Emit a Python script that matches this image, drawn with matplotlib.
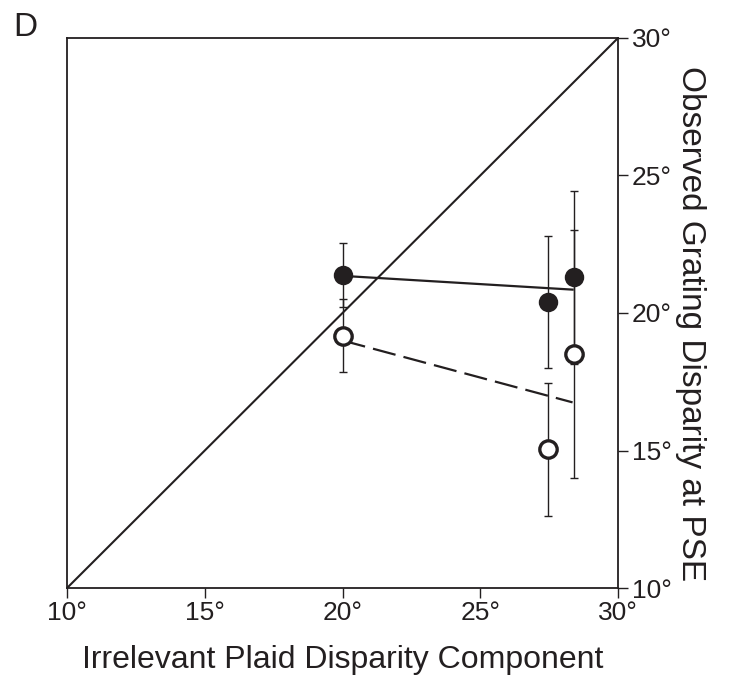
import matplotlib
matplotlib.use("Agg")
import matplotlib.pyplot as plt

plt.rcParams['font.family'] = ['Liberation Sans', 'DejaVu Sans']

# data
x_vals = [20.0, 27.45, 28.4]
filled_y = [21.38, 20.39, 21.3]
filled_err = [1.15, 2.4, 3.15]
open_y = [19.18, 15.04, 18.5]
open_err = [1.32, 2.42, 4.5]
solid_line_x = [20.0, 28.35]
solid_line_y = [21.35, 20.85]
dashed_line_x = [20.0, 28.35]
dashed_line_y = [19.0, 16.75]
ticks = [10, 15, 20, 25, 30]
tick_labels = ["10°", "15°", "20°", "25°", "30°"]

fig = plt.figure(figsize=(7.34, 6.78), dpi=100)
ax = fig.add_axes([0.0913, 0.1327, 0.7507, 0.8113])
ink = "#231f20"

ax.plot([10, 30], [10, 30], color=ink, lw=1.5, zorder=1)
ax.plot(solid_line_x, solid_line_y, color=ink, lw=1.6, zorder=2)
ax.plot(dashed_line_x, dashed_line_y, color=ink, lw=1.6, dashes=(10.5, 3.7), zorder=2)

ax.errorbar(x_vals, filled_y, yerr=filled_err, fmt='none', ecolor=ink,
            elinewidth=1.0, capsize=3, capthick=1.0, zorder=3)
ax.errorbar(x_vals, open_y, yerr=open_err, fmt='none', ecolor=ink,
            elinewidth=1.0, capsize=3, capthick=1.0, zorder=3)
ax.plot(x_vals, filled_y, 'o', ms=12.5, mfc=ink, mec=ink, mew=1.5, ls='none', zorder=4)
ax.plot(x_vals, open_y, 'o', ms=12.5, mfc='white', mec=ink, mew=2.4, ls='none', zorder=4)

ax.set_xlim(10, 30)
ax.set_ylim(10, 30)
ax.set_xticks(ticks)
ax.set_xticklabels(tick_labels, fontsize=19)
ax.set_yticks(ticks)
ax.set_yticklabels(tick_labels, fontsize=19)
ax.yaxis.tick_right()
ax.tick_params(axis='both', direction='out', length=7, width=1.0, color=ink, labelcolor=ink)
ax.tick_params(axis='x', pad=2)
ax.tick_params(axis='y', pad=3)
for s in ax.spines.values():
    s.set_linewidth(1.3)
    s.set_color(ink)

ax.set_xlabel("Irrelevant Plaid Disparity Component", fontsize=23, color=ink, labelpad=15)
ax.text(1.131, 0.48, "Observed Grating Disparity at PSE", transform=ax.transAxes,
        fontsize=24, color=ink, rotation=-90, ha='center', va='center')

fig.text(0.034, 0.960, "D", fontsize=24, color=ink, ha='center', va='center')

fig.savefig("out.png", dpi=100)
